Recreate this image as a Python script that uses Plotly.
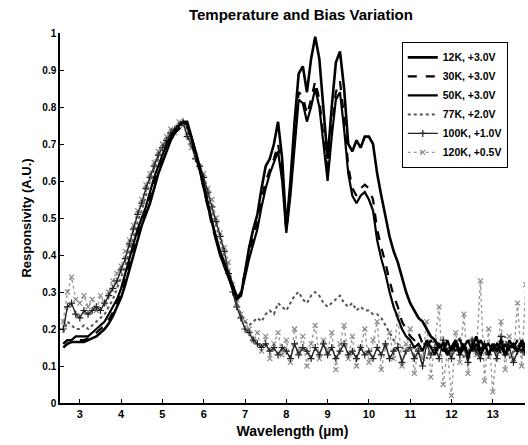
import plotly.graph_objects as go

# Wavelength sampling (µm): 2.6 ... 13.9, step 0.1
wl_start = 2.6
wl_step = 0.1

labels = ["12K, +3.0V", "30K, +3.0V", "50K, +3.0V", "77K, +2.0V", "100K, +1.0V", "120K, +0.5V"]

r_12k = [0.15, 0.16, 0.165, 0.165,
         0.165, 0.165, 0.17, 0.175, 0.18, 0.19, 0.20, 0.215, 0.235, 0.26,
         0.285, 0.32, 0.36, 0.40, 0.44, 0.48, 0.51, 0.54, 0.58, 0.62,
         0.65, 0.68, 0.71, 0.73, 0.75, 0.76, 0.76, 0.72, 0.68, 0.64,
         0.59, 0.54, 0.49, 0.44, 0.40, 0.37, 0.34, 0.31, 0.28, 0.29,
         0.36, 0.42, 0.47, 0.51, 0.58, 0.64, 0.66, 0.70, 0.76, 0.66,
         0.47, 0.60, 0.76, 0.89, 0.91, 0.84, 0.93, 0.99, 0.93, 0.80,
         0.66, 0.80, 0.92, 0.95, 0.85, 0.70, 0.68, 0.71, 0.69, 0.72,
         0.72, 0.70, 0.62, 0.56, 0.50, 0.45, 0.41, 0.38, 0.34, 0.30,
         0.27, 0.25, 0.23, 0.22, 0.20, 0.18, 0.17, 0.15, 0.16, 0.13,
         0.15, 0.17, 0.14, 0.16, 0.13, 0.15, 0.18, 0.14, 0.16, 0.13,
         0.16, 0.14, 0.17, 0.13, 0.15, 0.16, 0.14, 0.17, 0.15, 0.16]

r_30k = [0.16, 0.17, 0.17, 0.17,
         0.17, 0.17, 0.175, 0.18, 0.19, 0.20, 0.21, 0.225, 0.245, 0.27,
         0.30, 0.34, 0.38, 0.42, 0.46, 0.49, 0.52, 0.56, 0.60, 0.63,
         0.66, 0.69, 0.71, 0.73, 0.74, 0.75, 0.75, 0.71, 0.67, 0.63,
         0.58, 0.53, 0.48, 0.44, 0.40, 0.37, 0.34, 0.31, 0.28, 0.30,
         0.36, 0.41, 0.45, 0.49, 0.55, 0.60, 0.63, 0.66, 0.70, 0.62,
         0.47, 0.58, 0.72, 0.84, 0.83, 0.78, 0.82, 0.87, 0.82, 0.72,
         0.62, 0.74, 0.84, 0.87, 0.77, 0.64, 0.58, 0.56, 0.58, 0.59,
         0.58, 0.55, 0.47, 0.42, 0.38, 0.33, 0.29, 0.26, 0.22, 0.20,
         0.18, 0.17, 0.19, 0.16, 0.15, 0.17, 0.14, 0.16, 0.15, 0.13,
         0.16, 0.14, 0.17, 0.15, 0.12, 0.16, 0.14, 0.17, 0.15, 0.14,
         0.15, 0.17, 0.13, 0.16, 0.14, 0.15, 0.17, 0.14, 0.16, 0.15]

r_50k = [0.16, 0.17, 0.17, 0.18,
         0.18, 0.18, 0.18, 0.19, 0.20, 0.21, 0.22, 0.24, 0.26, 0.28,
         0.31, 0.35, 0.39, 0.43, 0.47, 0.50, 0.53, 0.57, 0.61, 0.64,
         0.67, 0.70, 0.72, 0.74, 0.75, 0.76, 0.75, 0.72, 0.68, 0.63,
         0.58, 0.53, 0.49, 0.45, 0.41, 0.38, 0.35, 0.32, 0.29, 0.29,
         0.34, 0.39, 0.43, 0.47, 0.53, 0.58, 0.62, 0.65, 0.68, 0.60,
         0.46, 0.56, 0.70, 0.82, 0.81, 0.76, 0.80, 0.85, 0.80, 0.70,
         0.60, 0.72, 0.82, 0.84, 0.74, 0.62, 0.56, 0.54, 0.56, 0.57,
         0.55, 0.52, 0.44, 0.39, 0.35, 0.30, 0.26, 0.23, 0.20, 0.18,
         0.17, 0.15, 0.16, 0.14, 0.17, 0.15, 0.13, 0.16, 0.14, 0.17,
         0.14, 0.16, 0.13, 0.15, 0.17, 0.14, 0.16, 0.13, 0.15, 0.16,
         0.14, 0.16, 0.15, 0.13, 0.17, 0.15, 0.14, 0.16, 0.13, 0.15]

r_77k = [0.19, 0.22, 0.21, 0.20,
         0.20, 0.21, 0.20, 0.21, 0.22, 0.23, 0.24, 0.26, 0.28, 0.31,
         0.34, 0.37, 0.41, 0.45, 0.49, 0.52, 0.56, 0.60, 0.63, 0.66,
         0.69, 0.71, 0.72, 0.74, 0.75, 0.76, 0.74, 0.70, 0.67, 0.63,
         0.60, 0.56, 0.52, 0.48, 0.44, 0.40, 0.36, 0.32, 0.27, 0.24,
         0.22, 0.21, 0.22, 0.23, 0.22, 0.24, 0.25, 0.24, 0.27, 0.26,
         0.25, 0.27, 0.29, 0.30, 0.28, 0.27, 0.29, 0.30, 0.29, 0.27,
         0.26, 0.27, 0.28, 0.29, 0.27, 0.26, 0.27, 0.25, 0.26, 0.25,
         0.25, 0.24, 0.24, 0.23, 0.21, 0.19, 0.17, 0.16, 0.15, 0.14,
         0.15, 0.13, 0.16, 0.14, 0.12, 0.15, 0.17, 0.13, 0.14, 0.16,
         0.13, 0.15, 0.18, 0.12, 0.14, 0.16, 0.13, 0.17, 0.14, 0.12,
         0.16, 0.13, 0.15, 0.18, 0.12, 0.14, 0.16, 0.13, 0.15, 0.14]

r_100k = [0.20, 0.26, 0.27, 0.24,
          0.23, 0.25, 0.24, 0.25, 0.26, 0.25, 0.27, 0.29, 0.31, 0.33,
          0.36, 0.39, 0.43, 0.47, 0.51, 0.54, 0.58, 0.61, 0.64, 0.67,
          0.69, 0.71, 0.73, 0.74, 0.75, 0.76, 0.72, 0.70, 0.66, 0.64,
          0.61, 0.57, 0.53, 0.49, 0.45, 0.41, 0.35, 0.30, 0.26, 0.23,
          0.20, 0.19, 0.17, 0.16, 0.15, 0.16, 0.14, 0.15, 0.13, 0.15,
          0.14, 0.12, 0.16, 0.13, 0.15, 0.14, 0.12, 0.15, 0.13, 0.16,
          0.13, 0.15, 0.12, 0.14, 0.16, 0.13, 0.14, 0.12, 0.15, 0.13,
          0.14, 0.12, 0.15, 0.13, 0.16, 0.12, 0.14, 0.15, 0.11, 0.14,
          0.15, 0.12, 0.14, 0.10, 0.16, 0.13, 0.15, 0.12, 0.17, 0.14,
          0.12, 0.16, 0.13, 0.15, 0.11, 0.17, 0.14, 0.12, 0.16, 0.13,
          0.15, 0.12, 0.18, 0.13, 0.15, 0.11, 0.14, 0.16, 0.13, 0.15]

r_120k = [0.22, 0.30, 0.34, 0.28,
          0.27, 0.29, 0.26, 0.28, 0.25, 0.29, 0.27, 0.30, 0.33, 0.35,
          0.37, 0.41, 0.44, 0.48, 0.52, 0.55, 0.59, 0.62, 0.65, 0.68,
          0.70, 0.72, 0.74, 0.73, 0.76, 0.75, 0.73, 0.69, 0.67, 0.64,
          0.62, 0.58, 0.55, 0.50, 0.46, 0.42, 0.38, 0.32, 0.27, 0.24,
          0.22, 0.20, 0.17, 0.19, 0.14, 0.18, 0.12, 0.16, 0.19, 0.13,
          0.17, 0.11, 0.20, 0.14, 0.18, 0.10, 0.16, 0.21, 0.12, 0.17,
          0.14, 0.19, 0.09, 0.16, 0.21, 0.12, 0.18, 0.10, 0.15, 0.20,
          0.11, 0.17, 0.22, 0.09, 0.15, 0.19, 0.12, 0.24, 0.10, 0.16,
          0.20, 0.08, 0.15, 0.12, 0.22, 0.07, 0.17, 0.26, 0.05, 0.14,
          0.02, 0.19, 0.11, 0.24, 0.08, 0.17, 0.13, 0.33, 0.06, 0.20,
          0.03, 0.15, 0.22, 0.09, 0.18, 0.12, 0.27, 0.10, 0.32, 0.14]

x_ticks = [3, 4, 5, 6, 7, 8, 9, 10, 11, 12, 13]
y_ticks = [0, 0.1, 0.2, 0.3, 0.4, 0.5, 0.6, 0.7, 0.8, 0.9, 1]
y_tick_text = ["0", "0.1", "0.2", "0.3", "0.4", "0.5", "0.6", "0.7", "0.8", "0.9", "1"]

series = [r_12k, r_30k, r_50k, r_77k, r_100k, r_120k]
styles = [
    dict(line=dict(color="black", width=2.6, dash="solid"), mode="lines"),
    dict(line=dict(color="black", width=2.2, dash="dash"), mode="lines"),
    dict(line=dict(color="black", width=2.2, dash="solid"), mode="lines"),
    dict(line=dict(color="#555555", width=2.0, dash="dot"), mode="lines"),
    dict(line=dict(color="#222222", width=1.4, dash="solid"), mode="lines+markers",
         marker=dict(symbol="cross-thin", size=5, color="#222222", line=dict(width=1.2, color="#222222"))),
    dict(line=dict(color="#9a9a9a", width=1.4, dash="dot"), mode="lines+markers",
         marker=dict(symbol="x-thin", size=5, color="#8a8a8a", line=dict(width=1.2, color="#8a8a8a"))),
]

fig = go.Figure()
# draw high-temperature first so low-T curves sit on top
order = [5, 4, 3, 2, 1, 0]
for i in order:
    y = series[i]
    x = [round(wl_start + wl_step * k, 2) for k in range(len(y))]
    fig.add_trace(go.Scatter(x=x, y=y, name=labels[i], legendrank=i + 1, **styles[i]))

font_family = "Liberation Sans, Arial, sans-serif"

fig.update_layout(
    width=528, height=445,
    margin=dict(l=60, r=3, t=33, b=42),
    paper_bgcolor="white", plot_bgcolor="white",
    font=dict(family=font_family, color="black"),
    title=dict(text="<b>Temperature and Bias Variation</b>", x=0.57, xref="container",
               xanchor="center", y=1 - 15 / 445, yref="container", yanchor="middle",
               font=dict(size=15, family=font_family, color="black")),
    showlegend=True,
    legend=dict(x=0.735, y=0.976, xanchor="left", yanchor="top",
                bgcolor="white", bordercolor="black", borderwidth=1,
                font=dict(size=10.5, family=font_family, color="black", weight="bold"),
                tracegroupgap=0, itemwidth=30, traceorder="normal"),
)

fig.update_xaxes(range=[2.52, 13.78], tickvals=x_ticks, ticktext=[str(v) for v in x_ticks],
                 showline=True, linecolor="black", linewidth=1.5, ticks="inside", ticklen=4,
                 tickcolor="black", showgrid=False, zeroline=False, mirror=False,
                 tickfont=dict(size=11, family=font_family, color="black", weight="bold"),
                 title=dict(text="<b>Wavelength (µm)</b>", standoff=7,
                            font=dict(size=14, family=font_family, color="black")))
fig.update_yaxes(range=[0, 1], tickvals=y_ticks, ticktext=y_tick_text,
                 showline=True, linecolor="black", linewidth=1.5, ticks="inside", ticklen=4,
                 tickcolor="black", showgrid=False, zeroline=False, mirror=False,
                 tickfont=dict(size=10, family=font_family, color="black", weight="bold"),
                 title=dict(text="<b>Responsivity (A.U.)</b>", standoff=8,
                            font=dict(size=13, family=font_family, color="black")))

fig.write_html("out.html")
